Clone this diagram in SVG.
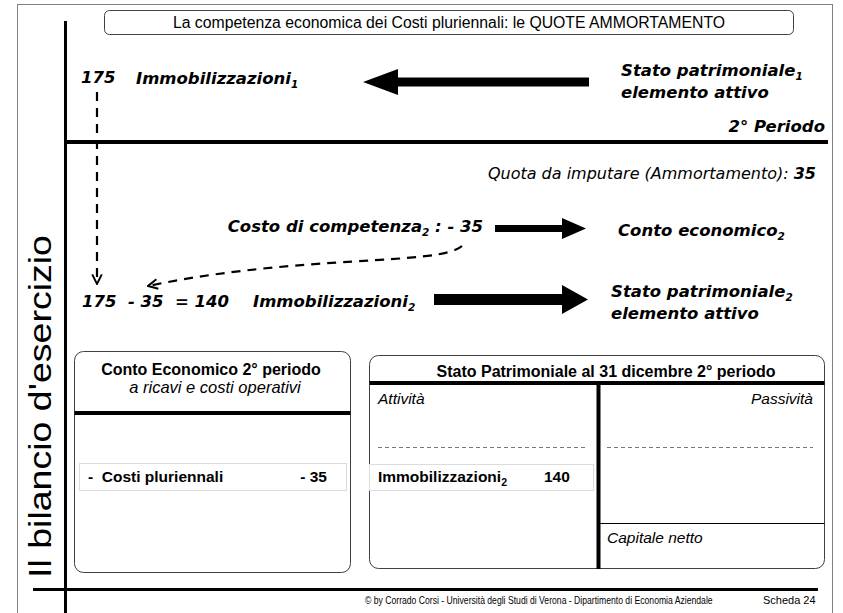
<svg xmlns="http://www.w3.org/2000/svg" width="843" height="613" viewBox="0 0 843 613">
<defs>
<style>
.bi{font-family:"DejaVu Sans",Verdana,sans-serif;font-weight:bold;font-style:italic;font-size:16.5px;fill:#000}
.it{font-family:"DejaVu Sans",Verdana,sans-serif;font-style:italic;font-size:16px;fill:#000}
.ar{font-family:"Liberation Sans",Arial,sans-serif;fill:#000}
.b{font-weight:bold}
.i{font-style:italic}
.box{fill:#fff;stroke:#404040;stroke-width:1}
.rowbox{fill:#fff;stroke:#dcdcdc;stroke-width:1}
.thick{stroke:#000;fill:none}
.dash{stroke:#000;stroke-width:2.2;fill:none;stroke-dasharray:9 7}
.gdash{stroke:#777;stroke-width:1;stroke-dasharray:4 3;fill:none}
</style>
<marker id="ah" viewBox="0 0 10 10" refX="9" refY="5" markerWidth="12" markerHeight="12" markerUnits="userSpaceOnUse" orient="auto">
<path d="M1,1 L9,5 L1,9" fill="none" stroke="#000" stroke-width="1.6"/>
</marker>
</defs>
<rect x="0" y="0" width="843" height="613" fill="#fff"/>
<rect x="17.5" y="4.5" width="815" height="640" fill="none" stroke="#808080" stroke-width="1"/>

<g id="frame-lines">
<line class="thick" x1="65.5" y1="21" x2="65.5" y2="613" stroke-width="3"/>
<line class="thick" x1="64" y1="142" x2="828" y2="142" stroke-width="4"/>
<line class="thick" x1="33" y1="589.5" x2="818" y2="589.5" stroke-width="3"/>
</g>

<g id="side-title">
<text class="ar" transform="translate(51,578) rotate(-90)" font-size="31" textLength="343" lengthAdjust="spacingAndGlyphs">Il bilancio d'esercizio</text>
</g>

<g id="title">
<rect class="box" x="104.5" y="10.5" width="689" height="24" rx="5"/>
<text class="ar" x="449" y="28" font-size="15.8" text-anchor="middle">La competenza economica dei Costi pluriennali: le QUOTE AMMORTAMENTO</text>
</g>

<g id="imm1">
<text class="bi" x="81" y="83">175</text>
<text class="bi" x="136" y="84">Immobilizzazioni<tspan font-size="10.5" dy="4">1</tspan></text>
</g>

<g id="sp1">
<text class="bi" x="621" y="76">Stato patrimoniale<tspan font-size="10.5" dy="4">1</tspan></text>
<text class="bi" x="621" y="98">elemento attivo</text>
</g>

<g id="periodo">
<text class="bi" x="825" y="132" text-anchor="end" font-size="14.5">2° Periodo</text>
</g>

<g id="quota">
<text class="it" x="816" y="179" text-anchor="end">Quota da imputare (Ammortamento): <tspan font-weight="bold">35</tspan></text>
</g>

<g id="costo">
<text class="bi" x="483" y="232" text-anchor="end">Costo di competenza<tspan font-size="10.5" dy="4">2</tspan><tspan dy="-4"> : - 35</tspan></text>
</g>

<g id="ce2">
<text class="bi" x="618" y="236">Conto economico<tspan font-size="10.5" dy="4">2</tspan></text>
</g>

<g id="imm2">
<text class="bi" x="82" y="307" xml:space="preserve">175  - 35  = 140</text>
<text class="bi" x="253" y="307">Immobilizzazioni<tspan font-size="10.5" dy="4">2</tspan></text>
</g>

<g id="sp2">
<text class="bi" x="611" y="297">Stato patrimoniale<tspan font-size="10.5" dy="4">2</tspan></text>
<text class="bi" x="611" y="319">elemento attivo</text>
</g>

<g id="connectors">
<polygon points="363,82 398,69 398,77.5 589,77.5 589,86.5 398,86.5 398,95" fill="#000"/>
<polygon points="495,225 562,225 562,218 586,228.5 562,239 562,232 495,232" fill="#000"/>
<polygon points="434,294 562,294 562,285 588,299.5 562,314 562,305 434,305" fill="#000"/>
<path class="dash" d="M97,92 L97,284" marker-end="url(#ah)"/>
<path class="dash" d="M462,246 C440,266 300,254 148,286" marker-end="url(#ah)"/>
</g>

<g id="conto-economico">
<rect class="box" x="74.5" y="351.5" width="276" height="221" rx="9"/>
<line class="thick" x1="74.5" y1="413" x2="350.5" y2="413" stroke-width="4"/>
<text class="ar b" x="211" y="375" font-size="16" text-anchor="middle">Conto Economico 2° periodo</text>
<text class="ar i" x="215" y="393" font-size="16.5" text-anchor="middle">a ricavi e costi operativi</text>
<rect class="rowbox" x="79.5" y="463.5" width="267" height="27"/>
<text class="ar b" x="88" y="482" font-size="15.5" xml:space="preserve">-  Costi pluriennali</text>
<text class="ar b" x="327" y="482" font-size="15.5" text-anchor="end">- 35</text>
</g>

<g id="stato-patrimoniale">
<rect class="box" x="369.5" y="355.5" width="455" height="213" rx="9"/>
<line class="thick" x1="369.5" y1="383" x2="824.5" y2="383" stroke-width="4"/>
<line class="thick" x1="598.5" y1="383" x2="598.5" y2="569" stroke-width="4"/>
<line x1="598.5" y1="523.5" x2="824.5" y2="523.5" stroke="#000" stroke-width="1"/>
<text class="ar b" x="606" y="377" font-size="16" text-anchor="middle">Stato Patrimoniale al 31 dicembre 2° periodo</text>
<text class="ar i" x="378" y="404" font-size="15.5">Attività</text>
<text class="ar i" x="813" y="404" font-size="15.5" text-anchor="end">Passività</text>
<line class="gdash" x1="378" y1="447.5" x2="587" y2="447.5"/>
<line class="gdash" x1="607" y1="447.5" x2="813" y2="447.5"/>
<rect class="rowbox" x="369.5" y="464.5" width="224" height="26"/>
<text class="ar b" x="378" y="482" font-size="15.5">Immobilizzazioni<tspan font-size="10.5" dy="4">2</tspan></text>
<text class="ar b" x="544" y="482" font-size="15.5">140</text>
<text class="ar i" x="607" y="543" font-size="15.5">Capitale netto</text>
</g>

<g id="footer">
<text class="ar" transform="translate(365,604) scale(0.785,1)" font-size="11">© by Corrado Corsi - Università degli Studi di Verona - Dipartimento di Economia Aziendale</text>
<text class="ar" x="763" y="604" font-size="11">Scheda 24</text>
</g>
</svg>
